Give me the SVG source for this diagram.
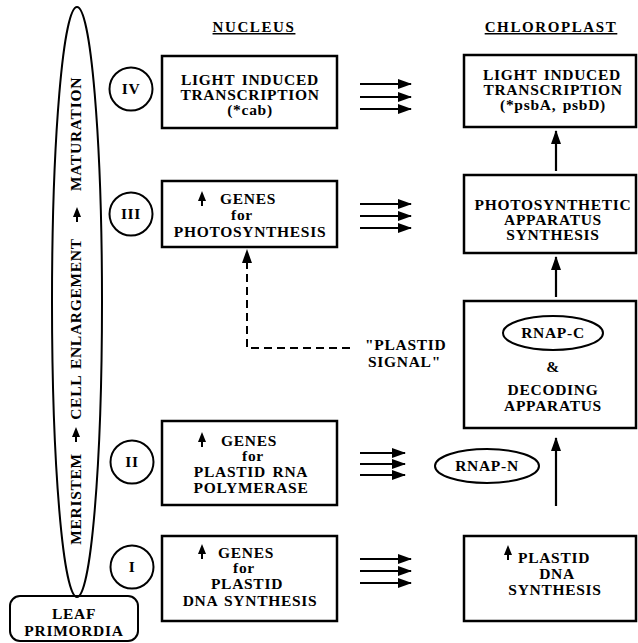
<svg xmlns="http://www.w3.org/2000/svg" width="638" height="643" viewBox="0 0 638 643">
<style>
  .t { font-family: "Liberation Serif", "Times New Roman", serif; font-weight: bold; font-size: 15.5px; letter-spacing: 0.7px; word-spacing: 2px; fill: #000; }
  .m { text-anchor: middle; }
  .h { font-size: 15px; letter-spacing: 1.6px; text-decoration: underline; }
  .box { fill: #fff; stroke: #000; stroke-width: 2.5; }
  .ln { fill: none; stroke: #000; stroke-width: 2; }
  .conn { fill: none; stroke: #000; stroke-width: 2.2; }
  .dash { fill: none; stroke: #000; stroke-width: 2; stroke-dasharray: 8 5; }
</style>
<defs>
  <marker id="ah" viewBox="0 0 14 10" refX="13" refY="5" markerWidth="14" markerHeight="10" markerUnits="userSpaceOnUse" orient="auto">
    <path d="M0,0 L14,5 L0,10 z" fill="#000"/>
  </marker>
  <g id="up">
    <path d="M0,0 L-4,10 L4,10 z" fill="#000"/>
    <line x1="0" y1="8" x2="0" y2="15" stroke="#000" stroke-width="2"/>
  </g>
</defs>

<rect width="638" height="643" fill="#fff"/>

<text class="t h m" x="254" y="32">NUCLEUS</text>
<text class="t h m" x="551" y="32">CHLOROPLAST</text>

<g id="stages">
  <ellipse class="ln" cx="77" cy="302" rx="25" ry="295"/>
  <text class="t m" transform="translate(81,134) rotate(-90)">MATURATION</text>
  <use href="#up" x="77" y="207"/>
  <text class="t m" transform="translate(81,329) rotate(-90)">CELL ENLARGEMENT</text>
  <use href="#up" x="76" y="427"/>
  <text class="t m" transform="translate(81,499) rotate(-90)">MERISTEM</text>
</g>

<g id="leaf-primordia">
  <rect class="ln" x="10" y="596" width="128" height="45" rx="10"/>
  <text class="t m" x="74" y="619">LEAF</text>
  <text class="t m" x="74" y="636">PRIMORDIA</text>
</g>

<g id="stage-IV">
  <circle class="ln" cx="131" cy="89" r="21.5"/>
  <text class="t m" x="131" y="94">IV</text>
</g>
<g id="stage-III">
  <circle class="ln" cx="131" cy="214" r="21.5"/>
  <text class="t m" x="131" y="219">III</text>
</g>
<g id="stage-II">
  <circle class="ln" cx="132" cy="462" r="21.5"/>
  <text class="t m" x="132" y="467">II</text>
</g>
<g id="stage-I">
  <circle class="ln" cx="132" cy="567" r="21.5"/>
  <text class="t m" x="132" y="572">I</text>
</g>

<g id="n-light">
  <rect class="box" x="162" y="56" width="175" height="72"/>
  <text class="t m" x="250" y="85">LIGHT INDUCED</text>
  <text class="t m" x="250" y="100">TRANSCRIPTION</text>
  <text class="t m" x="250" y="115">(*cab)</text>
</g>

<g id="n-photo">
  <rect class="box" x="162" y="181" width="175" height="66"/>
  <use href="#up" x="202" y="191"/>
  <text class="t" x="220" y="204">GENES</text>
  <text class="t m" x="242" y="220">for</text>
  <text class="t m" x="250" y="237">PHOTOSYNTHESIS</text>
</g>

<g id="n-rnap">
  <rect class="box" x="162" y="421" width="175" height="84"/>
  <use href="#up" x="202" y="432"/>
  <text class="t" x="221" y="446">GENES</text>
  <text class="t m" x="253" y="461">for</text>
  <text class="t m" x="251" y="477">PLASTID RNA</text>
  <text class="t m" x="251" y="493">POLYMERASE</text>
</g>

<g id="n-dna">
  <rect class="box" x="162" y="536" width="175" height="85"/>
  <use href="#up" x="202" y="544"/>
  <text class="t" x="218" y="558">GENES</text>
  <text class="t m" x="244" y="573">for</text>
  <text class="t m" x="247" y="589">PLASTID</text>
  <text class="t m" x="250" y="606">DNA SYNTHESIS</text>
</g>

<g id="c-light">
  <rect class="box" x="464" y="55" width="172" height="72"/>
  <text class="t m" x="552" y="80">LIGHT INDUCED</text>
  <text class="t m" x="553" y="95">TRANSCRIPTION</text>
  <text class="t m" x="553" y="110">(*psbA, psbD)</text>
</g>

<g id="c-photo">
  <rect class="box" x="464" y="175" width="172" height="78"/>
  <text class="t m" x="553" y="210">PHOTOSYNTHETIC</text>
  <text class="t m" x="553" y="225">APPARATUS</text>
  <text class="t m" x="553" y="240">SYNTHESIS</text>
</g>

<g id="c-decoding">
  <rect class="box" x="464" y="301" width="172" height="127"/>
  <ellipse class="ln" cx="553" cy="333" rx="50" ry="17"/>
  <text class="t m" x="553" y="338">RNAP-C</text>
  <text class="t m" x="553" y="372">&amp;</text>
  <text class="t m" x="553" y="395">DECODING</text>
  <text class="t m" x="553" y="411">APPARATUS</text>
</g>

<g id="rnap-n">
  <ellipse class="ln" cx="487" cy="466" rx="52" ry="17"/>
  <text class="t m" x="487" y="471">RNAP-N</text>
</g>

<g id="c-dna">
  <rect class="box" x="464" y="536" width="172" height="85"/>
  <use href="#up" x="508" y="545"/>
  <text class="t" x="518" y="563">PLASTID</text>
  <text class="t m" x="557" y="579">DNA</text>
  <text class="t m" x="555" y="595">SYNTHESIS</text>
</g>

<g id="plastid-signal">
  <text class="t" x="365" y="350">"PLASTID</text>
  <text class="t" x="368" y="367">SIGNAL"</text>
</g>

<g id="connectors">
  <line class="conn" x1="360" y1="84" x2="411" y2="84" marker-end="url(#ah)"/>
  <line class="conn" x1="360" y1="97" x2="411" y2="97" marker-end="url(#ah)"/>
  <line class="conn" x1="360" y1="109" x2="411" y2="109" marker-end="url(#ah)"/>

  <line class="conn" x1="360" y1="204" x2="411" y2="204" marker-end="url(#ah)"/>
  <line class="conn" x1="360" y1="216" x2="411" y2="216" marker-end="url(#ah)"/>
  <line class="conn" x1="360" y1="228" x2="411" y2="228" marker-end="url(#ah)"/>

  <line class="conn" x1="360" y1="453" x2="405" y2="453" marker-end="url(#ah)"/>
  <line class="conn" x1="360" y1="464" x2="405" y2="464" marker-end="url(#ah)"/>
  <line class="conn" x1="360" y1="475" x2="405" y2="475" marker-end="url(#ah)"/>

  <line class="conn" x1="360" y1="559" x2="411" y2="559" marker-end="url(#ah)"/>
  <line class="conn" x1="360" y1="571" x2="411" y2="571" marker-end="url(#ah)"/>
  <line class="conn" x1="360" y1="583" x2="411" y2="583" marker-end="url(#ah)"/>

  <line class="conn" x1="556" y1="171" x2="556" y2="131" marker-end="url(#ah)"/>
  <line class="conn" x1="556" y1="297" x2="556" y2="257" marker-end="url(#ah)"/>
  <line class="conn" x1="556" y1="506" x2="556" y2="438" marker-end="url(#ah)"/>

  <path class="dash" d="M350,348 H247 V262"/>
  <path d="M247,249 L242,263 L252,263 z" fill="#000"/>
</g>
</svg>
